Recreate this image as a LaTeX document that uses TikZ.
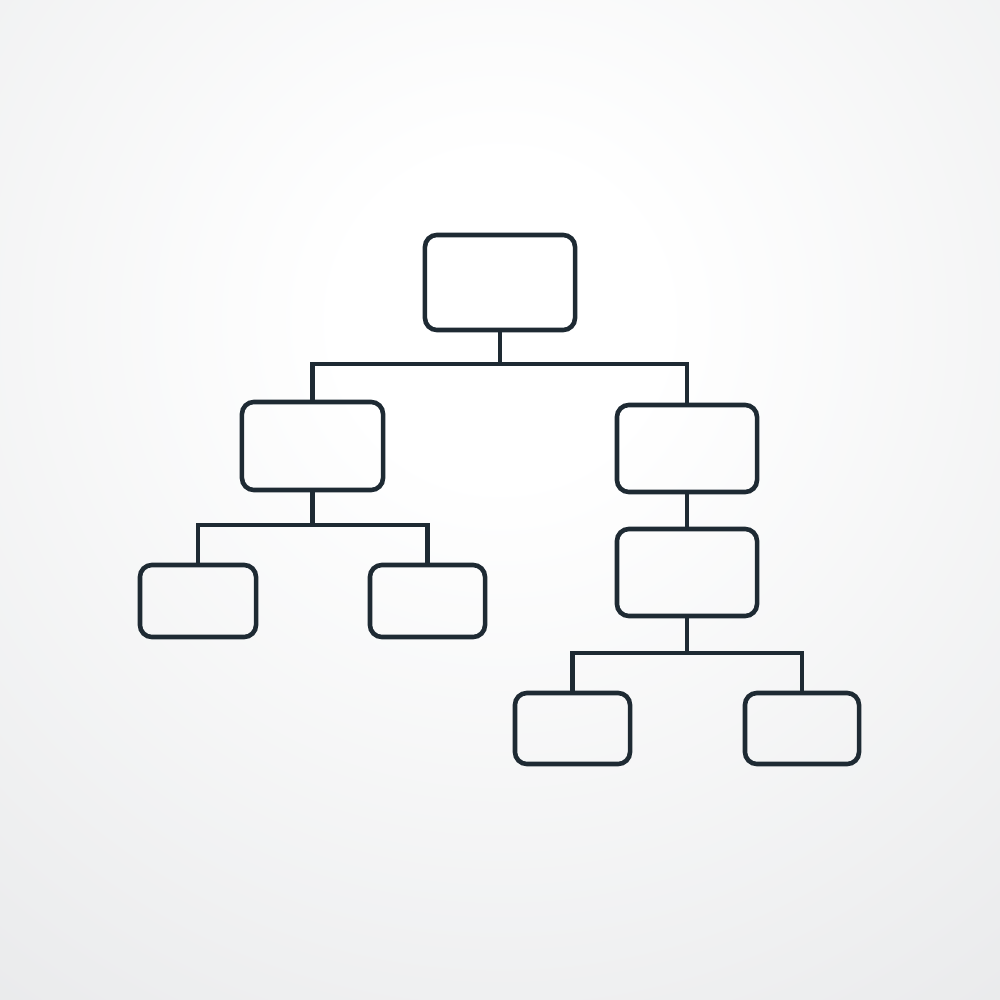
\documentclass[tikz,border=0pt]{standalone}
\definecolor{ink}{HTML}{1E2A33}
\definecolor{bgout}{HTML}{D0D2D5}
\pgfdeclareradialshading{bgshade}{\pgfpoint{0bp}{0bp}}{color(0bp)=(white); color(4bp)=(white); color(42bp)=(bgout); color(50bp)=(bgout)}
\tikzset{
  box/.style={draw=ink, line width=1.3pt, rounded corners=3.4pt, inner sep=0pt, fill=none},
  link/.style={draw=ink, line width=1.3pt}
}
\begin{document}
\begin{tikzpicture}[x=0.01cm,y=-0.01cm]
\useasboundingbox (0,0) rectangle (1000,1000);
\begin{scope}
\clip (0,0) rectangle (1000,1000);
\fill[bgout] (0,0) rectangle (1000,1000);
\shade[shading=bgshade] (500,320) circle (10cm);
\end{scope}
% boxes
\node[box, minimum width=1.50cm, minimum height=0.95cm] (top) at (500,282.5) {};
\node[box, minimum width=1.41cm, minimum height=0.88cm] (L)   at (312.5,446) {};
\node[box, minimum width=1.40cm, minimum height=0.87cm] (R1)  at (687,448.5) {};
\node[box, minimum width=1.40cm, minimum height=0.87cm] (R2)  at (687,572.5) {};
\node[box, minimum width=1.16cm, minimum height=0.72cm] (LL)  at (198,601) {};
\node[box, minimum width=1.15cm, minimum height=0.72cm] (LR)  at (427.5,601) {};
\node[box, minimum width=1.15cm, minimum height=0.71cm] (BL)  at (572.5,728.5) {};
\node[box, minimum width=1.14cm, minimum height=0.71cm] (BR)  at (802,728.5) {};
% junctions
\coordinate (j1) at (500,364);
\coordinate (j2) at (312.5,525);
\coordinate (j3) at (687,653);
% connectors
\draw[link] (top.south) -- (j1);
\draw[link] (L.north) |- (j1) -| (R1.north);
\draw[link] (L.south) -- (j2);
\draw[link] (LL.north) |- (j2) -| (LR.north);
\draw[link] (R1.south) -- (R2.north);
\draw[link] (R2.south) -- (j3);
\draw[link] (BL.north) |- (j3) -| (BR.north);
\end{tikzpicture}
\end{document}
